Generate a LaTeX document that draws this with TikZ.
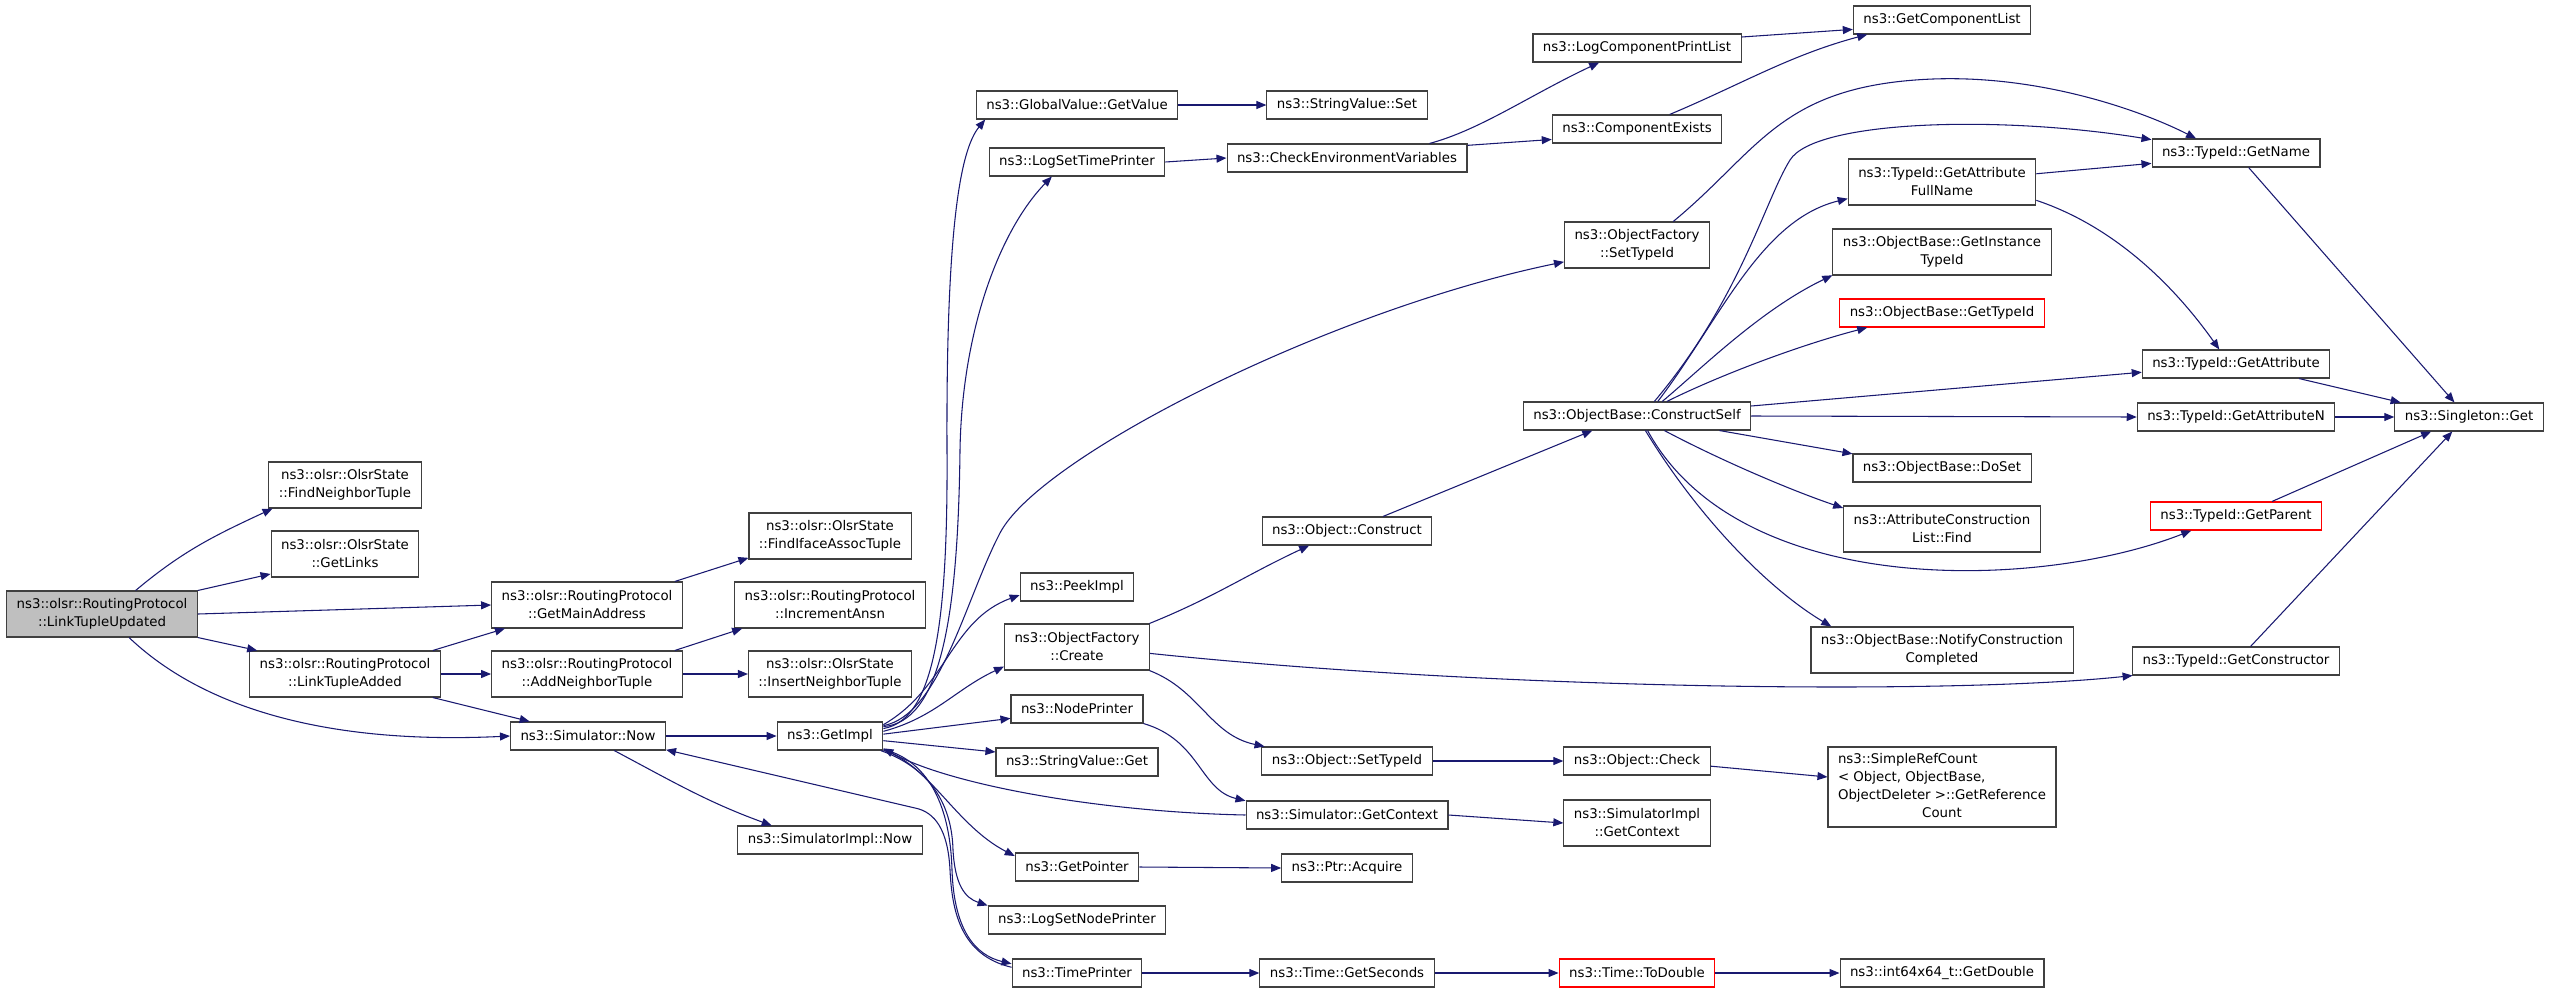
\documentclass[tikz,border=0pt]{standalone}
\usepackage{fontspec}
\setmainfont{DejaVu Sans}
\usetikzlibrary{arrows.meta}
\definecolor{callblue}{HTML}{191970}
\definecolor{boxgrey}{HTML}{404040}
\definecolor{rootgrey}{HTML}{BFBFBF}

\begin{document}
\begin{tikzpicture}[x=0.75pt,y=-0.75pt,
  fn/.style={draw=boxgrey,line width=0.8pt,fill=white,align=center,inner xsep=7.5pt,inner ysep=2pt,minimum height=21pt,font=\fontsize{10pt}{13.5pt}\selectfont},
  fntwo/.style={fn,minimum height=34.5pt},
  fnroot/.style={fntwo,fill=rootgrey},
  fnred/.style={fn,draw=red},
  call/.style={draw=callblue,line width=0.8pt,-{Triangle[length=7.5pt,width=6pt]}}]
  \useasboundingbox (0,0) rectangle (2552,993);

  \node[fnroot] (linktupleupdated) at (102,614) {ns3::olsr::RoutingProtocol\\::LinkTupleUpdated};

  \node[fntwo] (findneighbortuple) at (345,485) {ns3::olsr::OlsrState\\::FindNeighborTuple};
  \node[fntwo] (getlinks) at (345,554) {ns3::olsr::OlsrState\\::GetLinks};
  \node[fntwo] (linktupleadded) at (345,674) {ns3::olsr::RoutingProtocol\\::LinkTupleAdded};

  \node[fntwo] (getmainaddress) at (587,605) {ns3::olsr::RoutingProtocol\\::GetMainAddress};
  \node[fntwo] (addneighbortuple) at (587,674) {ns3::olsr::RoutingProtocol\\::AddNeighborTuple};
  \node[fn] (simnow) at (588,736) {ns3::Simulator::Now};

  \node[fntwo] (findifaceassoctuple) at (830,536) {ns3::olsr::OlsrState\\::FindIfaceAssocTuple};
  \node[fntwo] (incrementansn) at (830,605) {ns3::olsr::RoutingProtocol\\::IncrementAnsn};
  \node[fntwo] (insertneighbortuple) at (830,674) {ns3::olsr::OlsrState\\::InsertNeighborTuple};
  \node[fn] (getimpl) at (830,736) {ns3::GetImpl};
  \node[fn] (simimplnow) at (830,840) {ns3::SimulatorImpl::Now};

  \node[fn] (getvalue) at (1077,105) {ns3::GlobalValue::GetValue};
  \node[fn] (logsettimeprinter) at (1077,162) {ns3::LogSetTimePrinter};
  \node[fn] (peekimpl) at (1077,587) {ns3::PeekImpl};
  \node[fntwo] (create) at (1077,647) {ns3::ObjectFactory\\::Create};
  \node[fn] (nodeprinter) at (1077,709) {ns3::NodePrinter};
  \node[fn] (stringget) at (1077,762) {ns3::StringValue::Get};
  \node[fn] (getpointer) at (1077,867) {ns3::GetPointer};
  \node[fn] (logsetnodeprinter) at (1077,920) {ns3::LogSetNodePrinter};
  \node[fn] (timeprinter) at (1077,973) {ns3::TimePrinter};

  \node[fn] (stringset) at (1347,105) {ns3::StringValue::Set};
  \node[fn] (checkenv) at (1347,158) {ns3::CheckEnvironmentVariables};
  \node[fn] (construct) at (1347,531) {ns3::Object::Construct};
  \node[fn] (objsettypeid) at (1347,761) {ns3::Object::SetTypeId};
  \node[fn] (simgetcontext) at (1347,815) {ns3::Simulator::GetContext};
  \node[fn] (acquire) at (1347,868) {ns3::Ptr::Acquire};
  \node[fn] (getseconds) at (1347,973) {ns3::Time::GetSeconds};

  \node[fn] (logcomponentprintlist) at (1637,48) {ns3::LogComponentPrintList};
  \node[fn] (componentexists) at (1637,129) {ns3::ComponentExists};
  \node[fntwo] (factorysettypeid) at (1637,245) {ns3::ObjectFactory\\::SetTypeId};
  \node[fn] (constructself) at (1637,416) {ns3::ObjectBase::ConstructSelf};
  \node[fn] (check) at (1637,761) {ns3::Object::Check};
  \node[fntwo] (implgetcontext) at (1637,823) {ns3::SimulatorImpl\\::GetContext};
  \node[fnred] (todouble) at (1637,973) {ns3::Time::ToDouble};

  \node[fn] (getcomponentlist) at (1942,20) {ns3::GetComponentList};
  \node[fntwo] (fullname) at (1942,182) {ns3::TypeId::GetAttribute\\FullName};
  \node[fntwo] (instancetypeid) at (1942,252) {ns3::ObjectBase::GetInstance\\TypeId};
  \node[fnred] (basegettypeid) at (1942,313) {ns3::ObjectBase::GetTypeId};
  \node[fn] (doset) at (1942,468) {ns3::ObjectBase::DoSet};
  \node[fntwo] (find) at (1942,529) {ns3::AttributeConstruction\\List::Find};
  \node[fntwo] (notify) at (1942,650) {ns3::ObjectBase::NotifyConstruction\\Completed};
  \node[fn,minimum height=60pt] (refcount) at (1942,787) {\begin{tabular}{@{}c@{}}\multicolumn{1}{@{}l@{}}{ns3::SimpleRefCount}\\\multicolumn{1}{@{}l@{}}{< Object, ObjectBase,}\\ ObjectDeleter >::GetReference\\Count\end{tabular}};
  \node[fn] (getdouble) at (1942,973) {ns3::int64x64\_t::GetDouble};

  \node[fn] (getname) at (2236,153) {ns3::TypeId::GetName};
  \node[fn] (getattribute) at (2236,364) {ns3::TypeId::GetAttribute};
  \node[fn] (getattributen) at (2236,417) {ns3::TypeId::GetAttributeN};
  \node[fnred] (getparent) at (2236,516) {ns3::TypeId::GetParent};
  \node[fn] (getconstructor) at (2236,661) {ns3::TypeId::GetConstructor};

  \node[fn] (singleton) at (2469,417) {ns3::Singleton::Get};

  \draw[call] (linktupleupdated.35) to[out=40,in=205] (findneighbortuple.198);
  \draw[call] (linktupleupdated.north east) -- (getlinks.195);
  \draw[call] (linktupleupdated.east) -- (getmainaddress.west);
  \draw[call] (linktupleupdated.south east) -- (linktupleadded.165);
  \draw[call] (linktupleupdated.-41) .. controls (200,705) and (320,745) .. (simnow.west);

  \draw[call] (linktupleadded.15) -- (getmainaddress.196);
  \draw[call] (linktupleadded.east) -- (addneighbortuple.west);
  \draw[call] (linktupleadded.-15) -- (simnow.166);
  \draw[call] (getmainaddress.15) -- (findifaceassoctuple.195);
  \draw[call] (addneighbortuple.15) -- (incrementansn.195);
  \draw[call] (addneighbortuple.east) -- (insertneighbortuple.west);
  \draw[call] (simnow.east) -- (getimpl.west);
  \draw[call] (simnow.-29) to[out=-28,in=160] (simimplnow.166);

  \draw[call] (getimpl.8) .. controls (935,720) and (948,620) .. (947,450) .. controls (946,230) and (960,150) .. (getvalue.189);
  \draw[call] (getimpl.10) .. controls (940,722) and (958,620) .. (960,450) .. controls (962,330) and (1000,230) .. (logsettimeprinter.210);
  \draw[call] (getimpl.11) .. controls (940,715) and (965,600) .. (1000,533) .. controls (1040,456) and (1330,310) .. (factorysettypeid.193);
  \draw[call] (getimpl.12) to[out=30,in=200] (peekimpl.188);
  \draw[call] (getimpl.5) to[out=15,in=205] (create.195);
  \draw[call] (getimpl.2) -- (nodeprinter.188);
  \draw[call] (getimpl.-5) -- (stringget.173);
  \draw[call] (getimpl.-15) .. controls (930,765) and (955,825) .. (getpointer.170);
  \draw[call] (getimpl.-16) .. controls (935,770) and (952,810) .. (953,850) .. controls (955,885) and (965,898) .. (logsetnodeprinter.north west);
  \draw[call] (getimpl.-14) .. controls (925,760) and (950,800) .. (952,870) .. controls (954,930) and (975,955) .. (timeprinter.172);
  \draw[call] (timeprinter.175) .. controls (960,955) and (952,910) .. (950,870) .. controls (948,830) and (935,812) .. (915,808) -- (simnow.-10);
  \draw[call] (simgetcontext.west) .. controls (1100,812) and (950,785) .. (getimpl.-13);

  \draw[call] (getvalue.east) -- (stringset.west);
  \draw[call] (logsettimeprinter.east) -- (checkenv.west);
  \draw[call] (create.18) to[out=22,in=205] (construct.201);
  \draw[call] (create.-18) .. controls (1200,690) and (1210,735) .. (objsettypeid.170);
  \draw[call] (create.-5) .. controls (1500,690) and (1950,695) .. (getconstructor.188);
  \draw[call] (nodeprinter.south east) .. controls (1200,740) and (1200,790) .. (simgetcontext.172);
  \draw[call] (getpointer.east) -- (acquire.west);
  \draw[call] (timeprinter.east) -- (getseconds.west);

  \draw[call] (checkenv.10) .. controls (1480,130) and (1530,95) .. (logcomponentprintlist.201);
  \draw[call] (checkenv.6) -- (componentexists.187);
  \draw[call] (construct.22) -- (constructself.198);
  \draw[call] (objsettypeid.east) -- (check.west);
  \draw[call] (simgetcontext.east) -- (implgetcontext.west);
  \draw[call] (getseconds.east) -- (todouble.west);

  \draw[call] (logcomponentprintlist.6) -- (getcomponentlist.186);
  \draw[call] (componentexists.24) .. controls (1740,85) and (1790,55) .. (getcomponentlist.191);
  \draw[call] (factorysettypeid.33) .. controls (1760,150) and (1780,85) .. (1933,79) .. controls (2040,75) and (2140,110) .. (getname.160);
  \draw[call] (constructself.40) .. controls (1740,300) and (1765,200) .. (1790,160) .. controls (1815,120) and (2000,115) .. (getname.171);
  \draw[call] (constructself.35) .. controls (1720,320) and (1760,220) .. (fullname.190);
  \draw[call] (constructself.30) .. controls (1700,370) and (1760,310) .. (instancetypeid.192);
  \draw[call] (constructself.26) .. controls (1720,375) and (1800,345) .. (basegettypeid.191);
  \draw[call] (constructself.5) -- (getattribute.185);
  \draw[call] (constructself.east) -- (getattributen.west);
  \draw[call] (constructself.-10) -- (doset.171);
  \draw[call] (constructself.-28) .. controls (1720,460) and (1790,490) .. (find.168);
  \draw[call] (constructself.-54) .. controls (1740,600) and (2040,590) .. (getparent.198);
  \draw[call] (constructself.-60) .. controls (1700,520) and (1770,590) .. (notify.168);
  \draw[call] (check.-4) -- (refcount.175);
  \draw[call] (todouble.east) -- (getdouble.west);

  \draw[call] (fullname.5) -- (getname.187);
  \draw[call] (fullname.-11) .. controls (2110,225) and (2170,280) .. (getattribute.139);
  \draw[call] (getname.-49) -- (singleton.135);
  \draw[call] (getattribute.-13) -- (singleton.168);
  \draw[call] (getattributen.east) -- (singleton.west);
  \draw[call] (getparent.22) -- (singleton.201);
  \draw[call] (getconstructor.45) -- (singleton.221);
\end{tikzpicture}
\end{document}
